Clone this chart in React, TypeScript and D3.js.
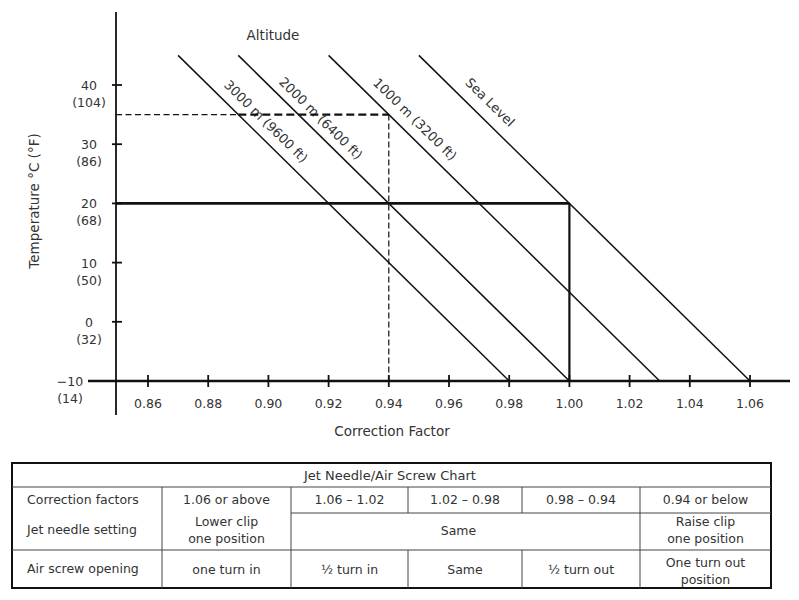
import React from "react";
import * as d3 from "d3";

// ---- data ----
const xTicks = [0.86, 0.88, 0.9, 0.92, 0.94, 0.96, 0.98, 1.0, 1.02, 1.04, 1.06];
const yTicksC = [-10, 0, 10, 20, 30, 40];
const yTicksF = [14, 32, 50, 68, 86, 104];
const altitudes = ["3000 m (9600 ft)", "2000 m (6400 ft)", "1000 m (3200 ft)", "Sea Level"];
const topFactor = [0.87, 0.89, 0.92, 0.95];
const bottomFactor = [0.98, 1.0, 1.03, 1.06];
const topTemp = 45;
const bottomTemp = -10;
const labelTemp = [32.1, 32.8, 32.4, 35.1];
const labelOffset = [10, 8.5, 10.5, 12];
// worked examples
const solidTemp = 20;
const solidFactor = 1.0;
const dashedTemp = 35;
const dashedMidFactor = 0.89;
const dashedFactor = 0.94;

const tableTitle = "Jet Needle/Air Screw Chart";
const rowLabels = ["Correction factors", "Jet needle setting", "Air screw opening"];
const correctionFactors = ["1.06 or above", "1.06 \u2013 1.02", "1.02 \u2013 0.98", "0.98 \u2013 0.94", "0.94 or below"];
const jetNeedle = [["Lower clip", "one position"], ["Same"], ["Raise clip", "one position"]];
const airScrew = [["one turn in"], ["\u00bd turn in"], ["Same"], ["\u00bd turn out"], ["One turn out", "position"]];

const FONT = "'DejaVu Sans', Verdana, sans-serif";
const TXT = "#333";

export default function App() {
  const x = d3.scaleLinear().domain([0.86, 1.06]).range([148, 750]);
  const y = d3.scaleLinear().domain([-10, 40]).range([381, 85]);
  const axisX = 116;
  const axisY = y(-10);
  const line = d3.line<[number, number]>().x((d) => x(d[0])).y((d) => y(d[1]));

  const ang = (Math.atan2(y(bottomTemp) - y(topTemp), x(bottomFactor[0]) - x(topFactor[0])) * 180) / Math.PI;

  // table geometry
  const tL = 12, tR = 771;
  const rows = [463, 487, 513, 550, 588];
  const cols = [12, 162, 291, 408, 522, 640, 771];
  const mid = (a: number, b: number) => (a + b) / 2;

  return (
    <svg width={799} height={600} style={{ position: "absolute", left: 0, top: 0, background: "#fff" }} fontFamily={FONT}>
      {/* axes */}
      <line x1={axisX} x2={axisX} y1={12} y2={415} stroke="#111" strokeWidth={1.8} />
      <line x1={88} x2={790} y1={axisY} y2={axisY} stroke="#111" strokeWidth={2.6} />
      {yTicksC.map((t, i) => (
        <g key={t}>
          <line x1={axisX - 4} x2={axisX + 6} y1={y(t)} y2={y(t)} stroke="#111" strokeWidth={1.8} />
          <text x={t === -10 ? 70 : 89} y={y(t) + 5} textAnchor="middle" fontSize={12.5} fill={TXT}>
            {t < 0 ? "\u2212" + Math.abs(t) : t}
          </text>
          <text x={t === -10 ? 70 : 89} y={y(t) + 22} textAnchor="middle" fontSize={12.5} fill={TXT}>
            ({yTicksF[i]})
          </text>
        </g>
      ))}
      {xTicks.map((t) => (
        <g key={t}>
          <line x1={x(t)} x2={x(t)} y1={axisY - 6} y2={axisY + 6} stroke="#111" strokeWidth={1.8} />
          <text x={x(t)} y={axisY + 27} textAnchor="middle" fontSize={12.5} fill={TXT}>
            {t.toFixed(2)}
          </text>
        </g>
      ))}
      <text x={392} y={436} textAnchor="middle" fontSize={13.5} fill={TXT}>Correction Factor</text>
      <text transform={`translate(39,201) rotate(-90)`} textAnchor="middle" fontSize={13.5} fill={TXT}>
        Temperature °C (°F)
      </text>
      <text x={273} y={40} textAnchor="middle" fontSize={13.5} fill={TXT}>Altitude</text>

      {/* altitude lines */}
      {altitudes.map((a, i) => (
        <path
          key={a}
          d={line([[topFactor[i], topTemp], [bottomFactor[i], bottomTemp]]) || ""}
          fill="none"
          stroke="#111"
          strokeWidth={1.5}
        />
      ))}
      {altitudes.map((a, i) => {
        const f = topFactor[i] + ((topTemp - labelTemp[i]) / (topTemp - bottomTemp)) * (bottomFactor[i] - topFactor[i]);
        return (
          <text
            key={a}
            transform={`translate(${x(f)},${y(labelTemp[i])}) rotate(${ang})`}
            y={-labelOffset[i]}
            textAnchor="middle"
            fontSize={13}
            fill={TXT}
          >
            {a}
          </text>
        );
      })}

      {/* solid example */}
      <line x1={axisX} x2={x(solidFactor)} y1={y(solidTemp)} y2={y(solidTemp)} stroke="#111" strokeWidth={2.6} />
      <line x1={x(solidFactor)} x2={x(solidFactor)} y1={y(solidTemp)} y2={axisY} stroke="#111" strokeWidth={2.2} />

      {/* dashed example */}
      <line x1={axisX} x2={x(dashedMidFactor)} y1={y(dashedTemp)} y2={y(dashedTemp)} stroke="#111" strokeWidth={1.2} strokeDasharray="6,3.5" />
      <line x1={x(dashedMidFactor)} x2={x(dashedFactor)} y1={y(dashedTemp)} y2={y(dashedTemp)} stroke="#111" strokeWidth={2.2} strokeDasharray="8,4" />
      <line x1={x(dashedFactor)} x2={x(dashedFactor)} y1={y(dashedTemp)} y2={axisY} stroke="#111" strokeWidth={1.2} strokeDasharray="6,3" />

      {/* table */}
      <rect x={tL} y={rows[0]} width={tR - tL} height={rows[4] - rows[0]} fill="none" stroke="#111" strokeWidth={2} />
      <line x1={tL} x2={tR} y1={rows[1]} y2={rows[1]} stroke="#444" strokeWidth={1} />
      <line x1={cols[2]} x2={tR} y1={rows[2]} y2={rows[2]} stroke="#444" strokeWidth={1} />
      <line x1={tL} x2={tR} y1={rows[3]} y2={rows[3]} stroke="#444" strokeWidth={1.2} />
      <line x1={cols[1]} x2={cols[1]} y1={rows[1]} y2={rows[4]} stroke="#444" strokeWidth={1} />
      <line x1={cols[2]} x2={cols[2]} y1={rows[1]} y2={rows[4]} stroke="#444" strokeWidth={1} />
      <line x1={cols[3]} x2={cols[3]} y1={rows[1]} y2={rows[2]} stroke="#444" strokeWidth={1} />
      <line x1={cols[3]} x2={cols[3]} y1={rows[3]} y2={rows[4]} stroke="#444" strokeWidth={1} />
      <line x1={cols[4]} x2={cols[4]} y1={rows[1]} y2={rows[2]} stroke="#444" strokeWidth={1} />
      <line x1={cols[4]} x2={cols[4]} y1={rows[3]} y2={rows[4]} stroke="#444" strokeWidth={1} />
      <line x1={cols[5]} x2={cols[5]} y1={rows[1]} y2={rows[4]} stroke="#444" strokeWidth={1} />

      <text x={390} y={480} textAnchor="middle" fontSize={13} fill={TXT}>{tableTitle}</text>
      <text x={27} y={504} fontSize={12.5} fill={TXT}>{rowLabels[0]}</text>
      <text x={27} y={534} fontSize={12.5} fill={TXT}>{rowLabels[1]}</text>
      <text x={27} y={573} fontSize={12.5} fill={TXT}>{rowLabels[2]}</text>

      {correctionFactors.map((c, i) => (
        <text key={c} x={mid(cols[i + 1], cols[i + 2])} y={504} textAnchor="middle" fontSize={12.5} fill={TXT}>
          {c}
        </text>
      ))}
      {[
        [cols[1], cols[2]],
        [cols[2], cols[5]],
        [cols[5], cols[6]],
      ].map(([a, b], i) =>
        jetNeedle[i].map((s, k) => (
          <text
            key={i + "-" + k}
            x={mid(a, b) - (i === 1 ? 7 : 0)}
            y={jetNeedle[i].length === 1 ? 535 : 526 + k * 17}
            textAnchor="middle"
            fontSize={12.5}
            fill={TXT}
          >
            {s}
          </text>
        ))
      )}
      {airScrew.map((lines, i) =>
        lines.map((s, k) => (
          <text
            key={i + "-" + k}
            x={mid(cols[i + 1], cols[i + 2])}
            y={lines.length === 1 ? 574 : 567 + k * 17}
            textAnchor="middle"
            fontSize={12.5}
            fill={TXT}
          >
            {s}
          </text>
        ))
      )}
    </svg>
  );
}
